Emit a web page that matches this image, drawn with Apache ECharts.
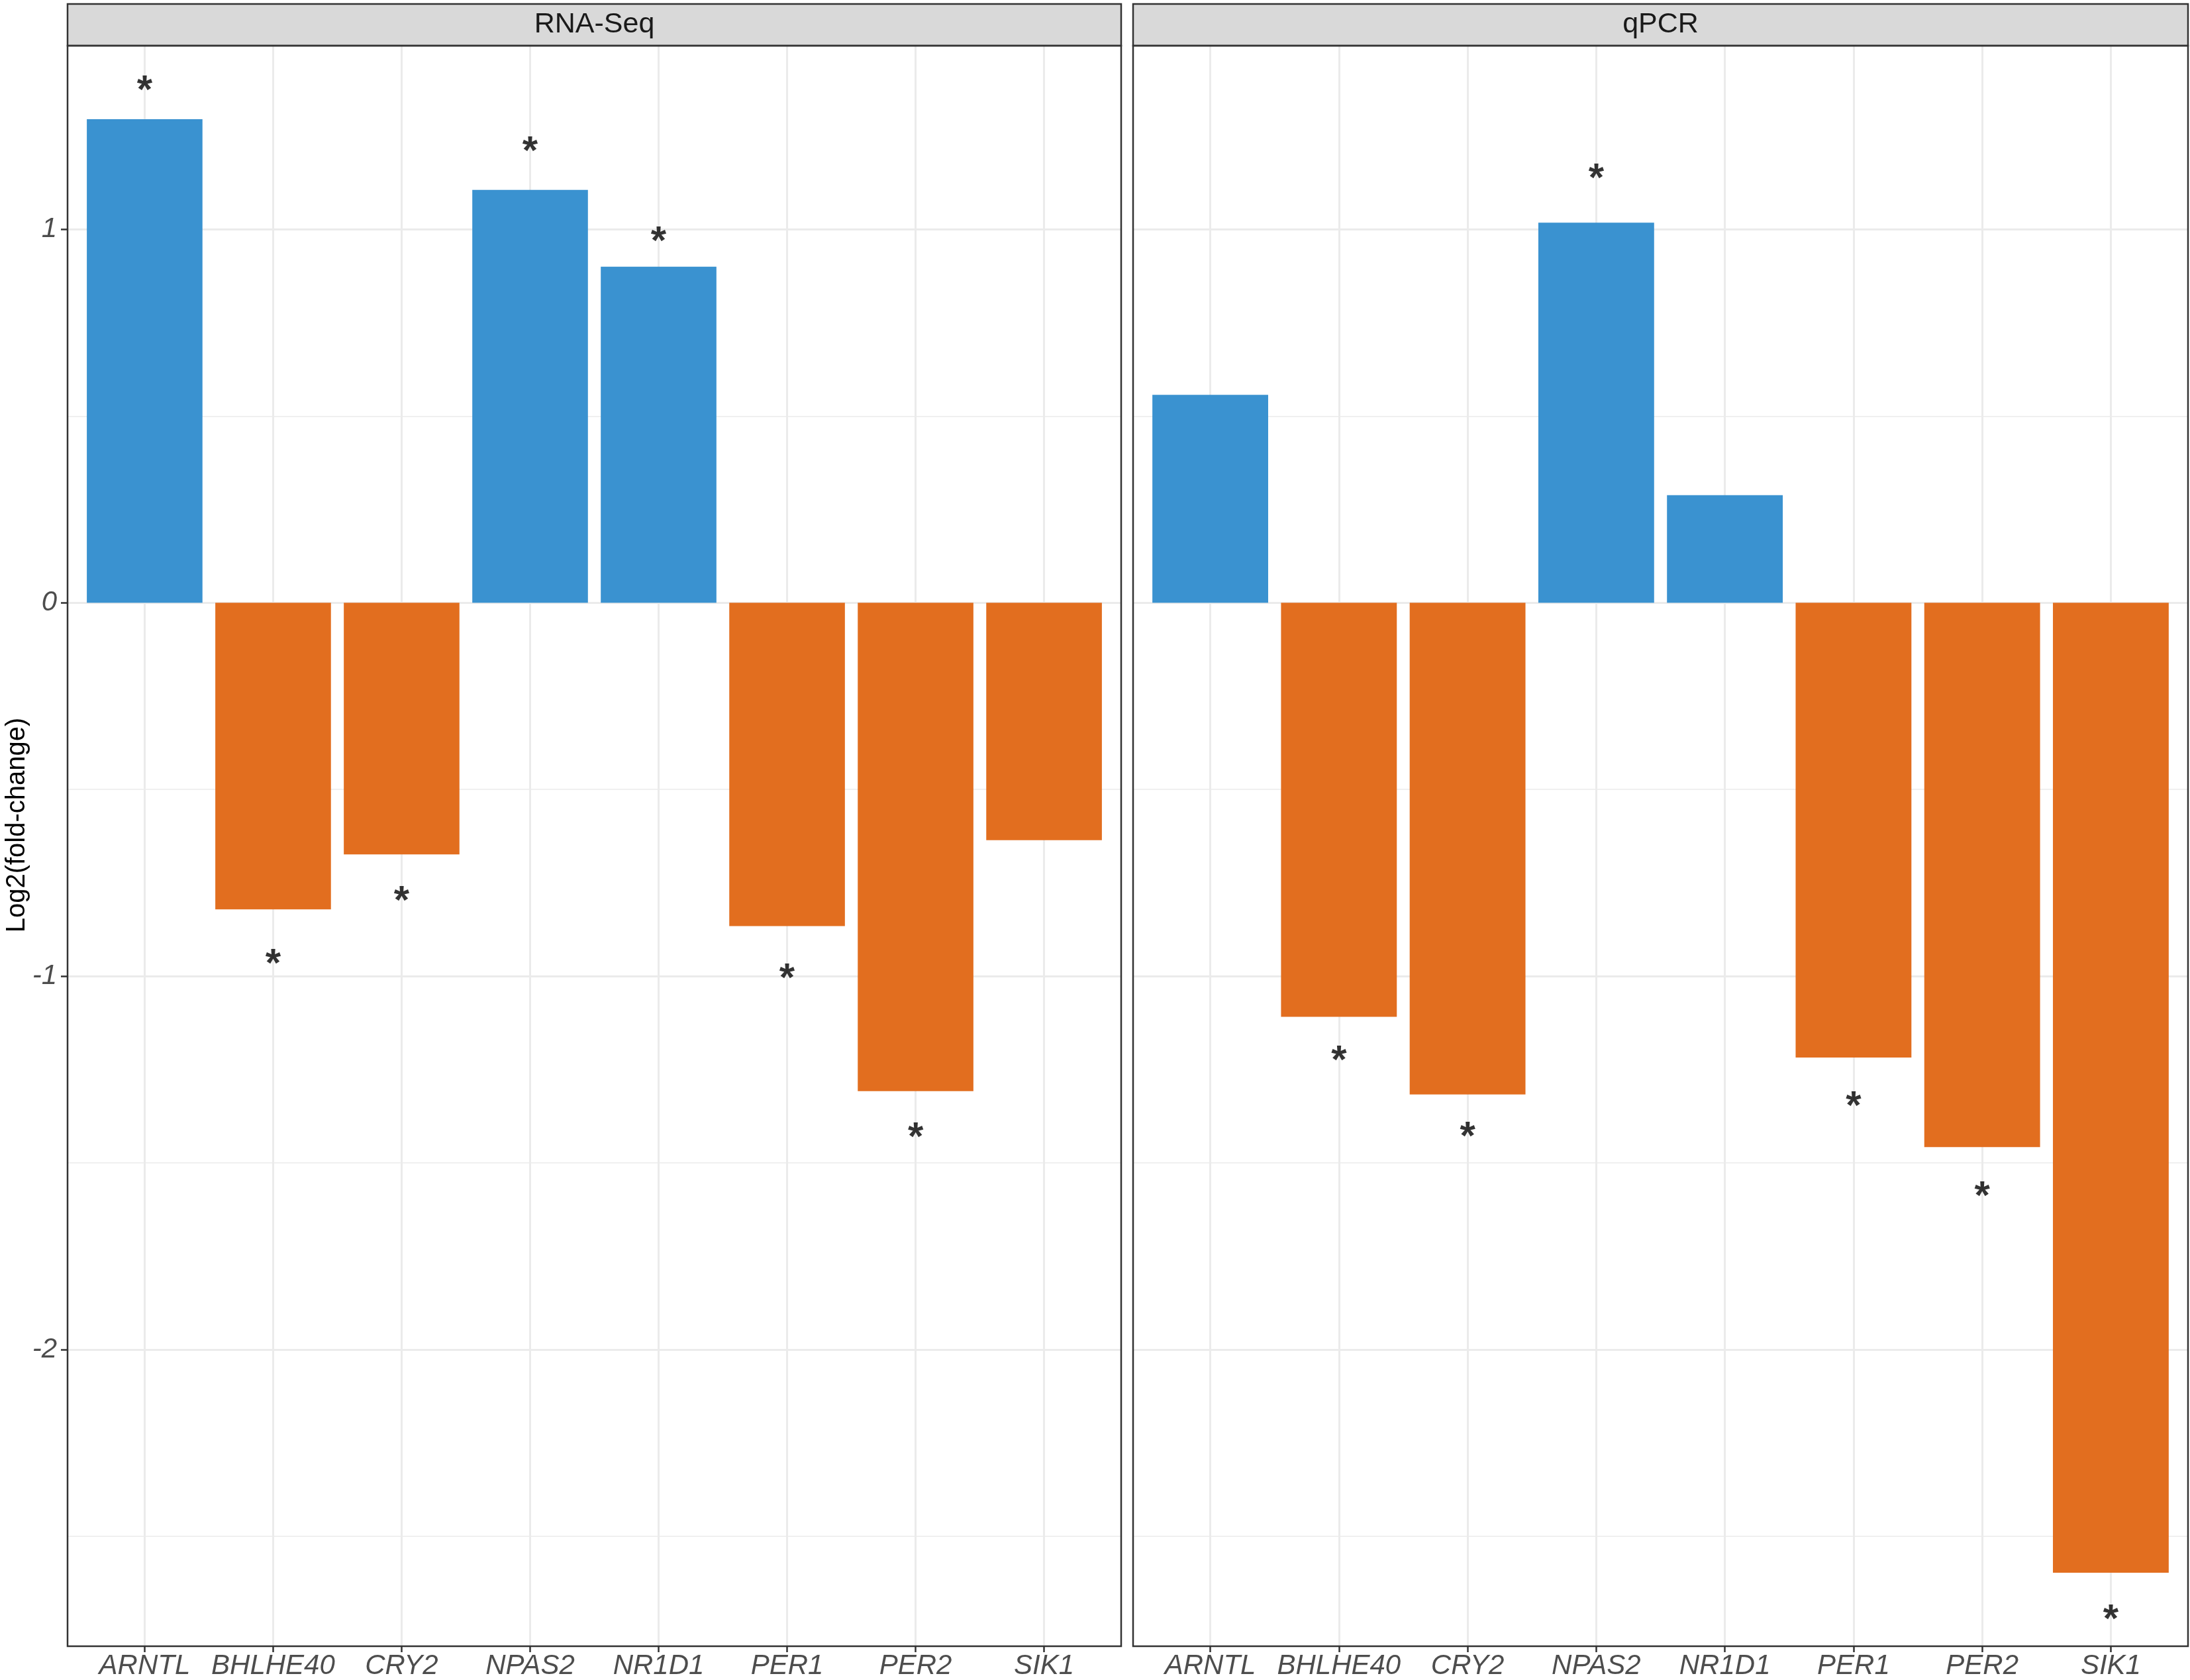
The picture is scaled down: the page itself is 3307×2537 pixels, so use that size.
<!DOCTYPE html>
<html>
<head>
<meta charset="utf-8">
<script src="https://cdn.jsdelivr.net/npm/echarts@6/dist/echarts.min.js"></script>
<style>
  html, body { margin: 0; padding: 0; background: #fff; }
  #chart { width: 3307px; height: 2537px; }
</style>
</head>
<body>
<div id="chart"></div>
<script>
//****************************** Data *************************************//

var genes = ["ARNTL", "BHLHE40", "CRY2", "NPAS2", "NR1D1", "PER1", "PER2", "SIK1"];
var panelNames = ["RNA-Seq", "qPCR"];

// log2 fold-change, same gene order in both panels
var rnaseqFC = [1.295, -0.821, -0.674, 1.106, 0.900, -0.866, -1.308, -0.636];
var qpcrFC = [0.557, -1.109, -1.317, 1.018, 0.288, -1.218, -1.458, -2.598];

// where the significance asterisk sits (null = no asterisk)
var rnaseqStar = [1.393, -0.946, -0.777, 1.231, 0.990, -0.985, -1.410, null];
var qpcrStar = [null, -1.205, -1.409, 1.157, null, -1.327, -1.568, -2.701];

var yMajor = [-2, -1, 0, 1];
var yMinor = [-2.5, -1.5, -0.5, 0.5];
var yMin = -2.793;
var yMax = 1.492;

//****************************** Layout / style *************************************//

var FONT = "Liberation Sans, Arial, sans-serif";
var BLUE = "#3A92D0";
var ORANGE = "#E26E1F";
var GRID_COL = "#EBEBEB";
var DARK = "#333333";

var panelLeft = [102, 1711];
var panelWidth = [1591, 1593];
var panelTop = 69;
var panelHeight = 2417;
var stripTop = 6;

var fcList = [rnaseqFC, qpcrFC];
var starList = [rnaseqStar, qpcrStar];
var geneIdx = genes.map(function (g, i) { return i; });

var grids = [], xAxes = [], yAxes = [], series = [], graphics = [];

panelNames.forEach(function (name, p) {
  grids.push({
    left: panelLeft[p],
    top: panelTop,
    width: panelWidth[p],
    height: panelHeight,
    containLabel: false
  });

  xAxes.push({
    type: "value",
    gridIndex: p,
    position: "bottom",
    min: -0.6,
    max: 7.6,
    axisLine: { show: false, onZero: false },
    axisTick: {
      show: true,
      customValues: geneIdx,
      length: 10,
      lineStyle: { color: DARK, width: 2.5 }
    },
    axisLabel: {
      customValues: geneIdx,
      formatter: function (v) { return genes[Math.round(v)]; },
      fontStyle: "italic",
      fontSize: 42,
      fontFamily: FONT,
      color: "#4D4D4D",
      margin: 10
    },
    splitLine: { show: true, lineStyle: { color: GRID_COL, width: 3 } }
  });

  // major y axis (labels only on the left panel)
  yAxes.push({
    type: "value",
    gridIndex: p,
    position: "left",
    min: yMin,
    max: yMax,
    axisLine: { show: false, onZero: false },
    axisTick: {
      show: p === 0,
      customValues: yMajor,
      length: 10,
      lineStyle: { color: DARK, width: 2.5 }
    },
    axisLabel: {
      show: p === 0,
      customValues: yMajor,
      fontStyle: "italic",
      fontSize: 42,
      fontFamily: FONT,
      color: "#4D4D4D",
      margin: 16
    },
    splitLine: { show: true, lineStyle: { color: GRID_COL, width: 3 } }
  });

  // minor y grid lines
  yAxes.push({
    type: "value",
    gridIndex: p,
    position: "right",
    min: yMin,
    max: yMax,
    axisLine: { show: false, onZero: false },
    axisTick: { show: false, customValues: yMinor },
    axisLabel: { show: false },
    splitLine: { show: true, lineStyle: { color: GRID_COL, width: 1.6 } }
  });

  series.push({
    type: "bar",
    xAxisIndex: p,
    yAxisIndex: p * 2,
    barWidth: "90%",
    data: fcList[p].map(function (v, i) {
      return { value: [i, v], itemStyle: { color: v >= 0 ? BLUE : ORANGE } };
    })
  });

  var stars = [];
  starList[p].forEach(function (s, i) {
    if (s !== null) stars.push([i, s]);
  });
  series.push({
    type: "scatter",
    xAxisIndex: p,
    yAxisIndex: p * 2,
    symbolSize: 1,
    itemStyle: { color: "rgba(0,0,0,0)" },
    label: {
      show: true,
      position: "inside",
      formatter: "*",
      fontSize: 60,
      fontWeight: "bold",
      fontFamily: FONT,
      color: "#000",
      offset: [0, 14]
    },
    data: stars
  });

  // strip on top of the panel
  graphics.push({
    type: "rect",
    shape: { x: panelLeft[p], y: stripTop, width: panelWidth[p], height: panelTop - stripTop },
    style: { fill: "#D9D9D9", stroke: DARK, lineWidth: 2.5 },
    z: 100
  });
  graphics.push({
    type: "text",
    x: panelLeft[p] + panelWidth[p] / 2,
    y: (stripTop + panelTop) / 2,
    style: {
      text: name,
      fontSize: 43,
      fontFamily: FONT,
      fill: "#1A1A1A",
      align: "center",
      verticalAlign: "middle"
    },
    z: 101
  });
  // panel frame
  graphics.push({
    type: "rect",
    shape: { x: panelLeft[p], y: panelTop, width: panelWidth[p], height: panelHeight },
    style: { fill: null, stroke: DARK, lineWidth: 2.5 },
    z: 100
  });
});

// y axis title, centred on panel + strip like ggplot
graphics.push({
  type: "text",
  x: 26,
  y: (stripTop + panelTop + panelHeight) / 2,
  rotation: Math.PI / 2,
  style: {
    text: "Log2(fold-change)",
    fontSize: 40,
    fontFamily: FONT,
    fill: "#000",
    align: "center",
    verticalAlign: "middle"
  },
  z: 100
});

var myChart = echarts.init(document.getElementById("chart"), null, { renderer: "canvas" });
myChart.setOption({
  animation: false,
  backgroundColor: "#fff",
  grid: grids,
  xAxis: xAxes,
  yAxis: yAxes,
  series: series,
  graphic: graphics
});
</script>
</body>
</html>
